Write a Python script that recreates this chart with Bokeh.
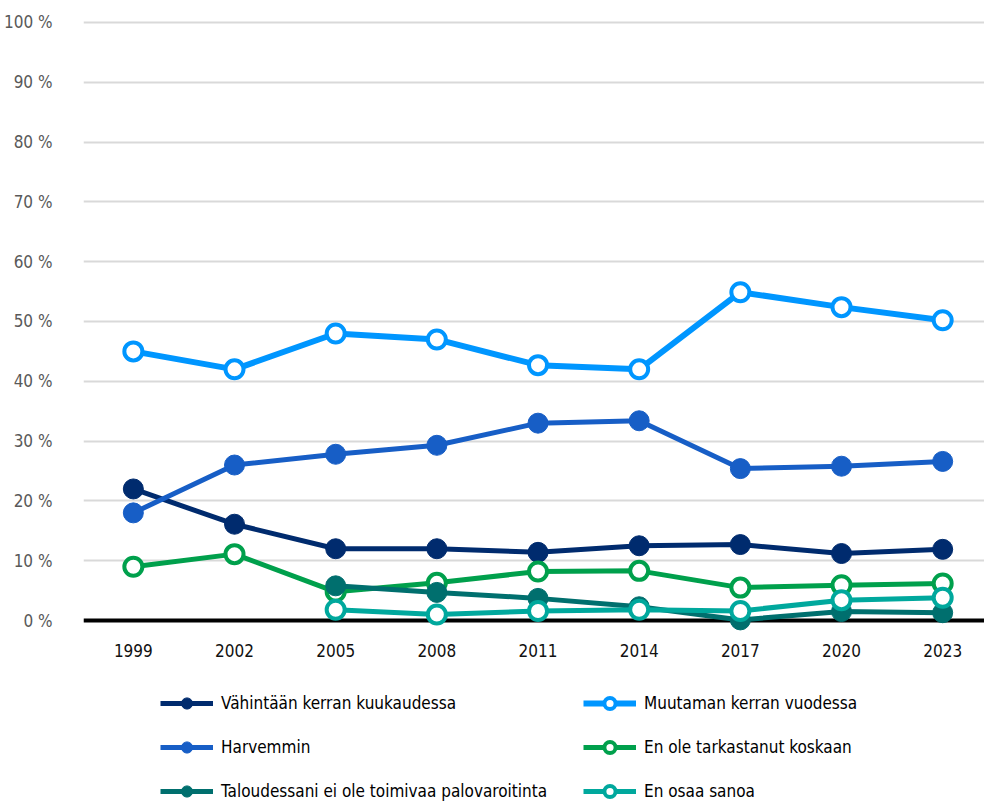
from bokeh.plotting import figure
from bokeh.models import Legend, LegendItem, Span, FixedTicker, Range1d
from bokeh.core.properties import value
from bokeh.embed import file_html
from bokeh.resources import INLINE

nan = float("nan")

years = [1999, 2002, 2005, 2008, 2011, 2014, 2017, 2020, 2023]
year_labels = [str(y) for y in years]
y_ticks = [0, 10, 20, 30, 40, 50, 60, 70, 80, 90, 100]
y_tick_labels = ["0 %", "10 %", "20 %", "30 %", "40 %", "50 %", "60 %", "70 %", "80 %", "90 %", "100 %"]

names = [
    "Vähintään kerran kuukaudessa",
    "Muutaman kerran vuodessa",
    "Harvemmin",
    "En ole tarkastanut koskaan",
    "Taloudessani ei ole toimivaa palovaroitinta",
    "En osaa sanoa",
]
vahintaan = [22.0, 16.1, 12.0, 12.0, 11.4, 12.5, 12.7, 11.2, 11.9]
muutaman = [45.0, 42.0, 48.0, 47.0, 42.7, 42.0, 54.9, 52.4, 50.2]
harvemmin = [18.0, 26.0, 27.8, 29.3, 33.0, 33.4, 25.4, 25.8, 26.6]
en_ole = [9.0, 11.1, 4.8, 6.3, 8.2, 8.3, 5.5, 5.9, 6.2]
taloudessani = [nan, nan, 5.8, 4.7, 3.7, 2.3, 0.1, 1.5, 1.3]
en_osaa = [nan, nan, 1.8, 1.0, 1.6, 1.8, 1.6, 3.4, 3.8]

series = [vahintaan, muutaman, harvemmin, en_ole, taloudessani, en_osaa]
colors = ["#002b6e", "#0096ff", "#175ec6", "#00a04c", "#006f6e", "#00a89d"]
hollow = [False, True, False, True, False, True]

FONT = "DejaVu Sans Condensed"
YEAR_LABEL_Y = -5.0  # position of the category labels under the zero line

p = figure(
    width=984, height=803,
    x_range=Range1d(1997.522, 2024.24),
    y_range=Range1d(-30.6, 101.67),
    output_backend="svg", toolbar_location=None,
    min_border_left=80, min_border_right=0, min_border_top=12, min_border_bottom=0,
)
p.outline_line_color = None

p.xgrid.visible = False
p.ygrid.ticker = FixedTicker(ticks=y_ticks)
p.ygrid.grid_line_color = "#d9d9d9"
p.ygrid.grid_line_width = 2

p.yaxis.ticker = FixedTicker(ticks=y_ticks)
p.yaxis.major_label_overrides = {t: l for t, l in zip(y_ticks, y_tick_labels)}
p.yaxis.axis_line_color = None
p.yaxis.major_tick_line_color = None
p.yaxis.minor_tick_line_color = None
p.yaxis.major_label_standoff = 25
p.yaxis.major_label_text_font = FONT
p.yaxis.major_label_text_font_size = "17px"
p.yaxis.major_label_text_color = "#595959"

p.xaxis.visible = False

zero = Span(location=0, dimension="width", line_color="black", line_width=4, level="underlay")
p.add_layout(zero)

p.text(x=years, y=[YEAR_LABEL_Y] * len(years), text=year_labels,
       text_align="center", text_baseline="middle",
       text_font=value(FONT), text_font_size=value("17px"), text_color="#111111")

items = []
for name, vals, col, hol in zip(names, series, colors, hollow):
    lw = 6 if name == "Muutaman kerran vuodessa" else 5
    ln = p.line(years, vals, line_color=col, line_width=lw)
    if hol:
        sc = p.scatter(years, vals, size=18, fill_color="white", line_color=col, line_width=4)
    else:
        sc = p.scatter(years, vals, size=20, fill_color=col, line_color=col, line_width=1)
    items.append(LegendItem(label=name, renderers=[ln, sc]))


def make_legend(its, x):
    return Legend(
        items=its, location=(x, -2),
        orientation="vertical",
        glyph_width=53, glyph_height=28, label_height=28,
        label_standoff=8, spacing=16, padding=0, margin=0,
        label_text_font=FONT, label_text_font_size="17px", label_text_color="#000000",
        border_line_color=None, background_fill_alpha=0,
    )


p.add_layout(make_legend([items[0], items[2], items[4]], 77))
p.add_layout(make_legend([items[1], items[3], items[5]], 500))

open("out.html", "w").write(file_html(p, INLINE))
